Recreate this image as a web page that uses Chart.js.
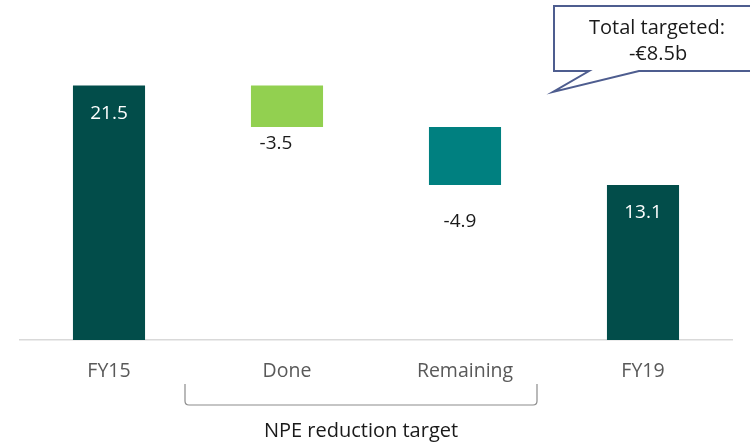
<!DOCTYPE html>
<html>
<head>
<meta charset="utf-8">
<script src="https://cdn.jsdelivr.net/npm/chart.js@4.4.1/dist/chart.umd.min.js"></script>
<style>
html,body{margin:0;padding:0;background:#fff;}
#wrap{width:750px;height:444px;position:relative;}
</style>
</head>
<body>
<div id="wrap"><canvas id="c" width="750" height="444"></canvas></div>
<script>
const categories = ["FY15", "Done", "Remaining", "FY19"];
const values = [21.5, -3.5, -4.9, 13.1];
const valueLabels = ["21.5", "-3.5", "-4.9", "13.1"];
const barColors = ["#024d4a", "#92d050", "#008080", "#024d4a"];
const groupLabel = "NPE reduction target";
const calloutLines = ["Total targeted:", "-€8.5b"];

// Waterfall ranges built from values
const ranges = [];
let running = 0;
values.forEach((v, i) => {
  if (i === 0 || i === values.length - 1) {
    ranges.push([0, v]);
    running = v;
  } else {
    ranges.push([running + v, running]);
    running += v;
  }
});

const FONT = "'Open Sans', 'Noto Sans', sans-serif";

const overlay = {
  id: 'overlay',
  afterDatasetsDraw(chart) {
    const ctx = chart.ctx;
    const meta = chart.getDatasetMeta(0);
    ctx.save();
    ctx.font = "19px " + FONT;
    ctx.textAlign = 'center';
    ctx.textBaseline = 'middle';
    meta.data.forEach((bar, i) => {
      const p = bar.getProps(['x', 'y', 'base'], true);
      const top = Math.min(p.y, p.base), bottom = Math.max(p.y, p.base);
      if (i === 0 || i === values.length - 1) {
        ctx.fillStyle = '#ffffff';
        ctx.fillText(valueLabels[i], p.x, top + 28);
      } else {
        ctx.fillStyle = '#1a1a1a';
        const dy = i === 1 ? 17 : 37;
        const dx = i === 1 ? -11 : -5;
        ctx.fillText(valueLabels[i], p.x + dx, bottom + dy);
      }
    });

    // bracket under Done / Remaining
    const xs = chart.scales.x;
    const x1 = xs.getPixelForValue(1) - 102;
    const x2 = xs.getPixelForValue(2) + 72;
    ctx.strokeStyle = '#8c8c8c';
    ctx.lineWidth = 1.2;
    const r = 4;
    ctx.beginPath();
    ctx.moveTo(x1, 384);
    ctx.lineTo(x1, 405 - r);
    ctx.quadraticCurveTo(x1, 405, x1 + r, 405);
    ctx.lineTo(x2 - r, 405);
    ctx.quadraticCurveTo(x2, 405, x2, 405 - r);
    ctx.lineTo(x2, 384);
    ctx.stroke();
    ctx.fillStyle = '#1a1a1a';
    ctx.font = "20px " + FONT;
    ctx.fillText(groupLabel, (x1 + x2) / 2, 431);

    // callout box
    ctx.strokeStyle = '#4e5d8f';
    ctx.lineWidth = 2;
    ctx.fillStyle = '#ffffff';
    ctx.beginPath();
    ctx.moveTo(554, 6);
    ctx.lineTo(752, 6);
    ctx.lineTo(752, 71);
    ctx.lineTo(639, 71);
    ctx.lineTo(553, 92);
    ctx.lineTo(589, 71);
    ctx.lineTo(554, 71);
    ctx.closePath();
    ctx.fill();
    ctx.stroke();
    ctx.fillStyle = '#1a1a1a';
    ctx.font = "20px " + FONT;
    ctx.fillText(calloutLines[0], 657, 28);
    ctx.fillText(calloutLines[1], 658, 54);
    ctx.restore();
  }
};

new Chart(document.getElementById('c'), {
  type: 'bar',
  data: {
    labels: categories,
    datasets: [{
      data: ranges,
      backgroundColor: barColors,
      borderWidth: 0,
      categoryPercentage: 1,
      barPercentage: 0.405
    }]
  },
  options: {
    responsive: false,
    animation: false,
    layout: { padding: { left: 20, right: 18, top: 44, bottom: 0 } },
    plugins: { legend: { display: false }, tooltip: { enabled: false } },
    scales: {
      x: {
        grid: { display: false, drawTicks: false },
        border: { display: true, color: '#d9d9d9', width: 1.5 },
        ticks: { color: '#595959', font: { family: FONT, size: 19.5 }, padding: 20 },
        afterFit(scale) { scale.height = 104; }
      },
      y: {
        display: false,
        min: 0,
        max: 25
      }
    }
  },
  plugins: [overlay]
});
</script>
</body>
</html>
